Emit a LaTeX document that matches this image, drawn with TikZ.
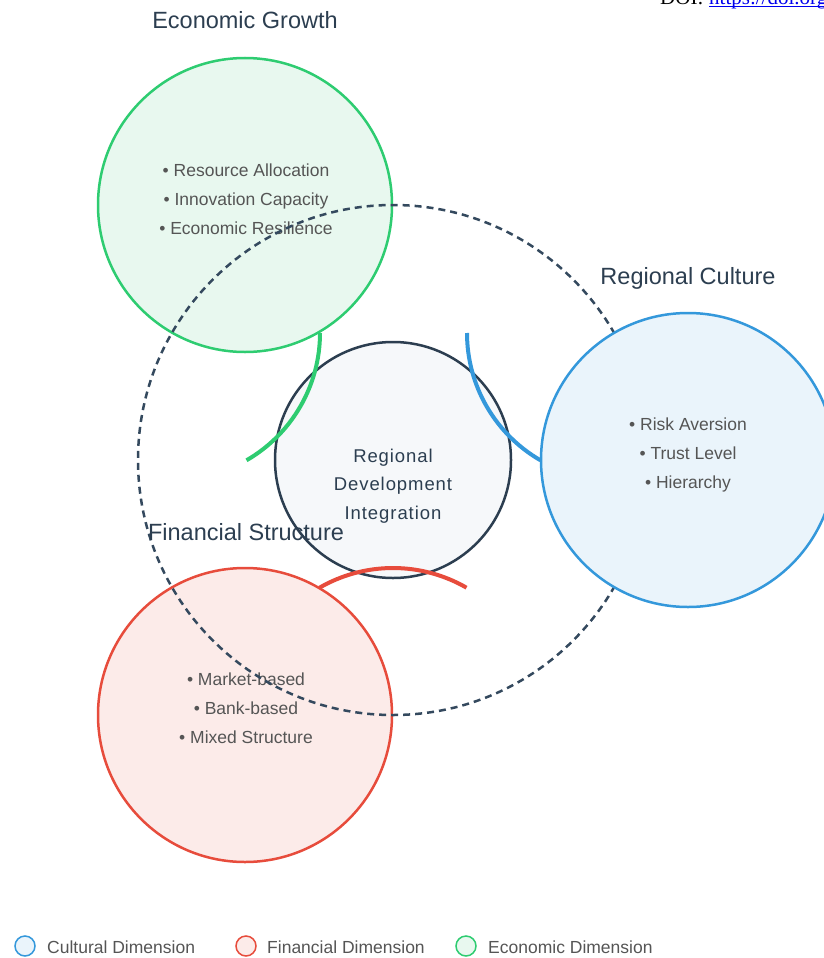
\documentclass[tikz,border=0pt]{standalone}
\usepackage{fontspec}
\setmainfont{Liberation Sans}
\newfontfamily\doifont{Liberation Serif}

\definecolor{ecoline}{HTML}{2ECC71}
\definecolor{ecofill}{HTML}{E8F8EF}
\definecolor{culline}{HTML}{3498DB}
\definecolor{culfill}{HTML}{EAF4FB}
\definecolor{finline}{HTML}{E74C3C}
\definecolor{finfill}{HTML}{FCEBE9}
\definecolor{coreline}{HTML}{2C3E50}
\definecolor{corefill}{HTML}{F6F8FA}
\definecolor{ringline}{HTML}{34495E}
\definecolor{titletext}{HTML}{2C3E50}
\definecolor{itemtext}{HTML}{555555}
\definecolor{linkblue}{HTML}{0000EE}

\tikzset{
  dimcircle/.style={circle, minimum size=294pt, inner sep=0pt, line width=2.5pt},
  corecircle/.style={circle, minimum size=236pt, inner sep=0pt, line width=2.5pt,
    draw=coreline, fill=corefill},
  ringcircle/.style={circle, minimum size=510pt, inner sep=0pt, line width=2.5pt,
    draw=ringline, dash pattern=on 7pt off 5pt},
  linkarc/.style={line width=4pt},
  dimtitle/.style={anchor=base, inner sep=0pt, text=titletext,
    font=\fontsize{23.5}{28}\selectfont},
  itemlist/.style={align=center, inner sep=0pt, text=itemtext,
    font=\fontsize{17.5}{29}\selectfont},
  coretext/.style={align=center, inner sep=0pt, text=titletext,
    font=\fontsize{18.5}{28.5}\selectfont\addfontfeature{LetterSpace=5}},
  legdot/.style={circle, minimum size=20pt, inner sep=0pt, line width=1.5pt},
  legtext/.style={anchor=base west, inner sep=0pt, text=itemtext,
    font=\fontsize{17.5}{20}\selectfont},
}

\begin{document}
\begin{tikzpicture}[x=1pt, y=-1pt]
\useasboundingbox (0,0) rectangle (824,958);
\clip (0,0) rectangle (824,958);

% economic dimension
\node[dimcircle, draw=ecoline, fill=ecofill] (eco) at (245,205) {};
\node[itemlist] (ecoitems) at (246,199) {• Resource Allocation\\• Innovation Capacity\\• Economic Resilience};

% financial dimension
\node[dimcircle, draw=finline, fill=finfill] (fin) at (245,715) {};
\node[itemlist] (finitems) at (246,708) {• Market-based\\• Bank-based\\• Mixed Structure};

% dashed integration ring
\node[ringcircle] (ring) at (393,460) {};

% cultural dimension
\node[dimcircle, draw=culline, fill=culfill] (cul) at (688,460) {};
\node[itemlist] (culitems) at (688,455) {• Risk Aversion\\• Trust Level\\• Hierarchy};

% core
\node[corecircle] (core) at (393,460) {};
\node[coretext] (coretxt) at (393,486) {Regional\\Development\\Integration};

% linking arcs, centred on the ring
\coordinate (ecohub) at (173,333);
\coordinate (culhub) at (614,333);
\coordinate (finhub) at (393,715);
\draw[linkarc, ecoline] (ecohub) ++(147,0) arc[start angle=0, end angle=60, radius=147];
\draw[linkarc, culline] (culhub) ++(-147,0) arc[start angle=180, end angle=120, radius=147];
\draw[linkarc, finline] (finhub) ++(-73.5,-127.3) arc[start angle=240, end angle=300, radius=147];

% titles
\node[dimtitle] (ecotitle) at (245,29) {Economic Growth};
\node[dimtitle] (cultitle) at (688,284) {Regional Culture};
\node[dimtitle] (fintitle) at (246,540) {Financial Structure};

% legend
\node[legdot, draw=culline, fill=culfill] (legcul) at (25,946) {};
\node[legtext] (legcultxt) at (47,953) {Cultural Dimension};
\node[legdot, draw=finline, fill=finfill] (legfin) at (246,946) {};
\node[legtext] (legfintxt) at (267,953) {Financial Dimension};
\node[legdot, draw=ecoline, fill=ecofill] (legeco) at (466,946) {};
\node[legtext] (legecotxt) at (488,953) {Economic Dimension};

% reference line
\node[anchor=base west, inner sep=0pt, font=\doifont\fontsize{21}{24}\selectfont] (doilabel) at (660,5) {DOI:};
\node[anchor=base west, inner sep=0pt, text=linkblue, font=\doifont\fontsize{21}{24}\selectfont] (doilink) at (709,5) {https://doi.org/};
\draw[linkblue, line width=1.2pt] ([yshift=-1.5pt]doilink.base west) -- ([yshift=-1.5pt]doilink.base east);
\end{tikzpicture}
\end{document}
